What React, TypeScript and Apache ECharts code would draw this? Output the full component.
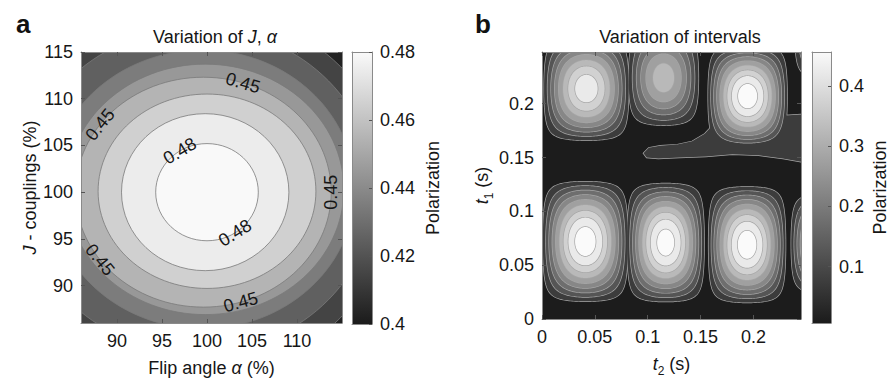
import React, { useEffect, useRef } from "react";
import * as echarts from "echarts";

// ---------------- Panel a : variation of J and flip angle ----------------
const flipTicks = [90, 95, 100, 105, 110];
const couplingTicks = [90, 95, 100, 105, 110, 115];
const flipRange = [86, 115];
const couplingRange = [86, 115];
// contour rings (outer -> inner)
const ringLevelsA = [0.41, 0.42, 0.43, 0.44, 0.45, 0.46, 0.47, 0.48];
const ringCenterXA = [97.8, 99.0, 99.5, 99.8, 99.6, 100.0, 99.8, 100.0];
const ringCenterYA = [100.0, 100.2, 100.3, 100.3, 100.0, 100.1, 100.0, 100.0];
const ringRadiusXA = [23.0, 19.6, 16.9, 15.4, 14.2, 12.1, 9.3, 5.7];
const ringRadiusYA = [20.0, 17.4, 14.9, 13.4, 12.3, 10.4, 8.4, 5.2];
// contour labels: which ring, angle on the ring (deg)
const labelRingA = [4, 4, 4, 4, 4, 7, 7];
const labelAngleA = [72, 144, 0, 216, 287, 122, 303];
const colorbarTicksA = [0.4, 0.42, 0.44, 0.46, 0.48];
const colorbarRangeA = [0.4, 0.48];

// ---------------- Panel b : variation of intervals ----------------
const t2Ticks = [0, 0.05, 0.1, 0.15, 0.2];
const t1Ticks = [0, 0.05, 0.1, 0.15, 0.2];
const t2Range = [0, 0.245];
const t1Range = [0, 0.248];
const levelsB = [0.05, 0.1, 0.15, 0.2, 0.25, 0.3, 0.35, 0.4, 0.45];
// polarization maxima (blobs): position, half size, peak value
const blobT2 = [0.041, 0.117, 0.194, 0.273, 0.042, 0.115, 0.1945, 0.277];
const blobT1 = [0.072, 0.071, 0.069, 0.07, 0.214, 0.224, 0.207, 0.266];
const blobHalfT2 = [0.043, 0.039, 0.039, 0.04, 0.0432, 0.0365, 0.04, 0.041];
const blobHalfT1 = [0.0595, 0.0588, 0.0575, 0.05, 0.0518, 0.0487, 0.05, 0.047];
const blobPeak = [0.48, 0.475, 0.48, 0.46, 0.432, 0.33, 0.48, 0.4];
// lowest contour tongue near t1 = 0.15
const tongueT2 = [0.096, 0.101, 0.112, 0.128, 0.142, 0.154, 0.166, 0.245, 0.245, 0.228, 0.205, 0.18, 0.155, 0.13, 0.11, 0.099];
const tongueT1 = [0.154, 0.159, 0.161, 0.162, 0.165, 0.172, 0.185, 0.19, 0.146, 0.149, 0.152, 0.153, 0.151, 0.15, 0.149, 0.15];
const colorbarTicksB = [0.1, 0.2, 0.3, 0.4];
const colorbarRangeB = [0.006, 0.457];

// ---------------- styles ----------------
const bandColorsA = ["#232323", "#444444", "#606060", "#7c7c7c", "#989898", "#b4b4b4", "#d0d0d0", "#ececec", "#f9f9f9"];
const bandColorsB = ["#1c1c1c", "#3c3c3c", "#555555", "#6e6e6e", "#878787", "#a0a0a0", "#b9b9b9", "#d1d1d1", "#eaeaea", "#fafafa"];
const FONT = "'Liberation Sans', Arial, Helvetica, sans-serif";
const TXT = "#161616";
const FS = 18;

function blobRing(s: number, level: number): number[][] | null {
  const A = blobPeak[s];
  if (level >= A) return null;
  const c = level / A;
  const amax = Math.acos(c);
  const N = 80;
  const upper: number[][] = [];
  const lower: number[][] = [];
  for (let n = 0; n <= N; n++) {
    const tau = -Math.PI / 2 + (Math.PI * n) / N;
    const a = amax * Math.sin(tau);
    const cb = Math.min(1, c / Math.cos(a));
    const b = Math.acos(cb);
    const x = blobT2[s] + blobHalfT2[s] * ((2 * a) / Math.PI);
    const dy = blobHalfT1[s] * ((2 * b) / Math.PI);
    upper.push([x, blobT1[s] + dy]);
    lower.push([x, blobT1[s] - dy]);
  }
  return upper.concat(lower.reverse());
}

function shapeAt(s: number, k: number): number[][] | null {
  if (s === blobT2.length) {
    return k === 0 ? tongueT2.map((x, i) => [x, tongueT1[i]]) : null;
  }
  return blobRing(s, levelsB[k]);
}

const rich = {
  n: { fontSize: FS, fontFamily: FONT, color: TXT, fontWeight: "normal" },
  i: { fontSize: FS, fontFamily: FONT, color: TXT, fontStyle: "italic", fontWeight: "normal" },
};
const richSub = {
  n: { fontSize: FS, fontFamily: FONT, color: TXT, lineHeight: 26 },
  i: { fontSize: FS, fontFamily: FONT, color: TXT, fontStyle: "italic", lineHeight: 26 },
  s: { fontSize: 12, fontFamily: FONT, color: TXT, lineHeight: 12, verticalAlign: "bottom" },
};

const frameLine = { show: true, onZero: false, lineStyle: { color: "#8a8a8a", width: 1 } };

function valueAxis(extra: any) {
  return {
    type: "value",
    z: 10,
    splitLine: { show: false },
    axisLine: frameLine,
    axisTick: { show: false },
    axisLabel: { show: false },
    ...extra,
  };
}
function ticked(values: number[], len = 4) {
  return { show: true, inside: true, length: len, customValues: values, lineStyle: { color: "#555555", width: 1 } };
}
function labelled(values: number[], margin: number) {
  return { show: true, customValues: values, margin, fontSize: FS, fontFamily: FONT, color: TXT };
}

export default function App() {
  const ref = useRef<HTMLDivElement>(null);
  useEffect(() => {
    document.body.style.margin = "0";
    if (!ref.current) return;
    const chart = echarts.init(ref.current, undefined, { renderer: "svg" });

    const dataB: number[][] = [];
    for (let k = 0; k < levelsB.length; k++) {
      const present: number[] = [];
      for (let s = 0; s <= blobT2.length; s++) if (shapeAt(s, k)) present.push(s);
      present.forEach((s) => dataB.push([s, k, 0]));
      present.forEach((s) => dataB.push([s, k, 1]));
    }

    const option: any = {
      animation: false,
      title: [
        { text: "a", left: 11, top: 6, textStyle: { fontSize: 26, fontWeight: "bold", fontFamily: FONT, color: "#111" } },
        { text: "b", left: 470, top: 6, textStyle: { fontSize: 26, fontWeight: "bold", fontFamily: FONT, color: "#111" } },
        { text: "{n|Variation of }{i|J}{n|, }{i|α}", left: 210, top: 23, textAlign: "center", textStyle: { fontWeight: "normal", rich } },
        { text: "Variation of intervals", left: 675, top: 23, textAlign: "center", textStyle: { fontSize: FS, fontWeight: "normal", fontFamily: FONT, color: TXT } },
      ],
      grid: [
        { left: 81, top: 52, width: 261, height: 272, show: true, backgroundColor: bandColorsA[0], borderWidth: 0 },
        { left: 352, top: 52, width: 20, height: 272 },
        { left: 542, top: 52, width: 259, height: 271, show: true, backgroundColor: bandColorsB[0], borderWidth: 0 },
        { left: 812, top: 52, width: 21, height: 271 },
      ],
      xAxis: [
        valueAxis({
          gridIndex: 0, min: flipRange[0], max: flipRange[1], position: "bottom",
          axisTick: ticked(flipTicks), axisLabel: labelled(flipTicks, 9),
          name: "{n|Flip angle }{i|α}{n| (%)}", nameLocation: "middle", nameGap: 36,
          nameTextStyle: { rich },
        }),
        valueAxis({ gridIndex: 0, min: flipRange[0], max: flipRange[1], position: "top", axisTick: ticked(flipTicks) }),
        valueAxis({ gridIndex: 1, min: 0, max: 1, position: "bottom" }),
        valueAxis({ gridIndex: 1, min: 0, max: 1, position: "top" }),
        valueAxis({
          gridIndex: 2, min: t2Range[0], max: t2Range[1], position: "bottom",
          axisTick: ticked(t2Ticks), axisLabel: labelled(t2Ticks, 9),
          name: "{i|t}{s|2}{n| (s)}", nameLocation: "middle", nameGap: 32,
          nameTextStyle: { rich: richSub },
        }),
        valueAxis({ gridIndex: 2, min: t2Range[0], max: t2Range[1], position: "top", axisTick: ticked(t2Ticks) }),
        valueAxis({ gridIndex: 3, min: 0, max: 1, position: "bottom" }),
        valueAxis({ gridIndex: 3, min: 0, max: 1, position: "top" }),
      ],
      yAxis: [
        valueAxis({
          gridIndex: 0, min: couplingRange[0], max: couplingRange[1], position: "left",
          axisTick: ticked(couplingTicks), axisLabel: labelled(couplingTicks, 8),
          name: "{i|J}{n| - couplings (%)}", nameLocation: "middle", nameRotate: 90, nameGap: 42,
          nameTextStyle: { rich },
        }),
        valueAxis({ gridIndex: 0, min: couplingRange[0], max: couplingRange[1], position: "right", axisTick: ticked(couplingTicks) }),
        valueAxis({ gridIndex: 1, min: colorbarRangeA[0], max: colorbarRangeA[1], position: "left" }),
        valueAxis({
          gridIndex: 1, min: colorbarRangeA[0], max: colorbarRangeA[1], position: "right",
          axisTick: ticked(colorbarTicksA, 3), axisLabel: labelled(colorbarTicksA, 8),
          name: "Polarization", nameLocation: "middle", nameRotate: 90, nameGap: 52,
          nameTextStyle: { fontSize: FS, fontFamily: FONT, color: TXT },
        }),
        valueAxis({
          gridIndex: 2, min: t1Range[0], max: t1Range[1], position: "left",
          axisTick: ticked(t1Ticks), axisLabel: labelled(t1Ticks, 8),
          name: "{i|t}{s|1}{n| (s)}", nameLocation: "middle", nameRotate: 90, nameGap: 46,
          nameTextStyle: { rich: richSub },
        }),
        valueAxis({ gridIndex: 2, min: t1Range[0], max: t1Range[1], position: "right", axisTick: ticked(t1Ticks) }),
        valueAxis({ gridIndex: 3, min: colorbarRangeB[0], max: colorbarRangeB[1], position: "left" }),
        valueAxis({
          gridIndex: 3, min: colorbarRangeB[0], max: colorbarRangeB[1], position: "right",
          axisTick: ticked(colorbarTicksB, 3), axisLabel: labelled(colorbarTicksB, 8),
          name: "Polarization", nameLocation: "middle", nameRotate: 90, nameGap: 40,
          nameTextStyle: { fontSize: FS, fontFamily: FONT, color: TXT },
        }),
      ],
      series: [
        {
          type: "custom", xAxisIndex: 0, yAxisIndex: 0, clip: true,
          data: ringLevelsA.map((_, i) => [i, 0]),
          renderItem: (_p: any, api: any) => {
            const i = api.value(0);
            const cx = ringCenterXA[i];
            const cy = ringCenterYA[i];
            const c = api.coord([cx, cy]);
            const ex = api.coord([cx + ringRadiusXA[i], cy]);
            const ey = api.coord([cx, cy + ringRadiusYA[i]]);
            return {
              type: "ellipse",
              shape: { cx: c[0], cy: c[1], rx: ex[0] - c[0], ry: c[1] - ey[1] },
              style: { fill: bandColorsA[i + 1], stroke: "#7a7a7a", lineWidth: 0.8 },
            };
          },
        },
        {
          type: "custom", xAxisIndex: 0, yAxisIndex: 0, clip: true,
          data: labelRingA.map((_, j) => [j, 0]),
          renderItem: (_p: any, api: any) => {
            const j = api.value(0);
            const r = labelRingA[j];
            const th = (labelAngleA[j] * Math.PI) / 180;
            const pt = (t: number) => api.coord([
              ringCenterXA[r] + ringRadiusXA[r] * Math.cos(t),
              ringCenterYA[r] + ringRadiusYA[r] * Math.sin(t),
            ]);
            const p = pt(th);
            const p1 = pt(th - 0.01);
            const p2 = pt(th + 0.01);
            let ang = Math.atan2(-(p2[1] - p1[1]), p2[0] - p1[0]);
            while (ang > Math.PI / 2 + 1e-6) ang -= Math.PI;
            while (ang <= -Math.PI / 2) ang += Math.PI;
            return {
              type: "text", x: p[0], y: p[1], rotation: ang,
              style: { text: ringLevelsA[r].toFixed(2), fill: TXT, fontSize: 18, fontFamily: FONT, align: "center", verticalAlign: "middle" },
            };
          },
        },
        {
          type: "custom", xAxisIndex: 2, yAxisIndex: 2,
          data: [[0, 0]],
          renderItem: (_p: any, api: any) => {
            const p0 = api.coord([0, colorbarRangeA[1]]);
            const p1 = api.coord([1, colorbarRangeA[0]]);
            return {
              type: "rect",
              shape: { x: p0[0], y: p0[1], width: p1[0] - p0[0], height: p1[1] - p0[1] },
              style: { fill: new echarts.graphic.LinearGradient(0, 0, 0, 1, [{ offset: 0, color: "#fafafa" }, { offset: 1, color: "#1b1b1b" }]) },
            };
          },
        },
        {
          type: "custom", xAxisIndex: 4, yAxisIndex: 4, clip: true,
          data: dataB,
          renderItem: (_p: any, api: any) => {
            const s = api.value(0);
            const k = api.value(1);
            const pass = api.value(2);
            const pts = shapeAt(s, k);
            if (!pts) return null;
            const pix = pts.map((q) => api.coord(q));
            if (pass === 0) {
              return { type: "polygon", shape: { points: pix }, style: { fill: "none", stroke: "#a6a6a6", lineWidth: 1.4 } };
            }
            return { type: "polygon", shape: { points: pix }, style: { fill: bandColorsB[k + 1] } };
          },
        },
        {
          type: "custom", xAxisIndex: 6, yAxisIndex: 6,
          data: [[0, 0]],
          renderItem: (_p: any, api: any) => {
            const p0 = api.coord([0, colorbarRangeB[1]]);
            const p1 = api.coord([1, colorbarRangeB[0]]);
            return {
              type: "rect",
              shape: { x: p0[0], y: p0[1], width: p1[0] - p0[0], height: p1[1] - p0[1] },
              style: { fill: new echarts.graphic.LinearGradient(0, 0, 0, 1, [{ offset: 0, color: "#fafafa" }, { offset: 1, color: "#1b1b1b" }]) },
            };
          },
        },
      ],
    };
    chart.setOption(option);
    return () => chart.dispose();
  }, []);
  return <div ref={ref} style={{ width: 890, height: 382 }} />;
}
